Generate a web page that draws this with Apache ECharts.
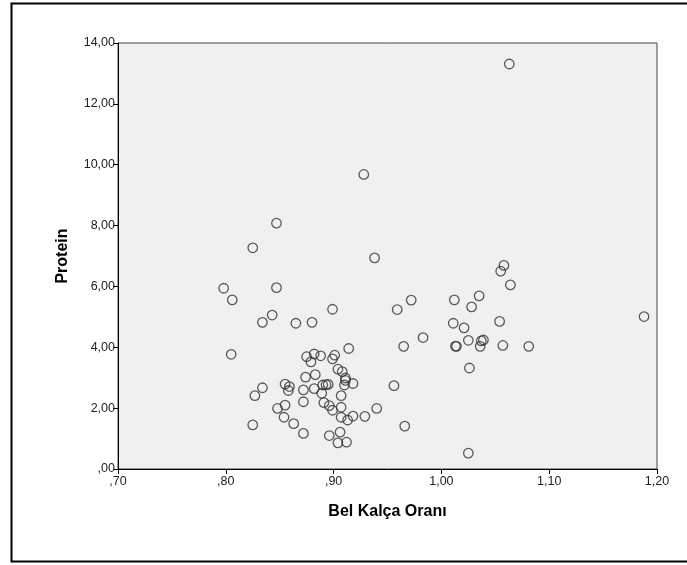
<!DOCTYPE html>
<html><head><meta charset="utf-8">
<script src="https://cdn.jsdelivr.net/npm/echarts@6/dist/echarts.min.js"></script>
<style>html,body{margin:0;padding:0;background:#fff}#c{width:687px;height:565px}</style>
</head><body><div id="c"></div>
<script>
const belKalca = [1.063,0.928,0.847,0.825,0.938,1.058,1.055,1.064,0.798,0.847,0.806,0.972,1.012,1.035,1.028,0.899,0.959,0.843,0.834,0.865,0.880,1.011,1.021,1.054,1.188,0.983,1.025,1.037,1.039,1.036,1.014,1.013,0.965,1.057,1.081,0.914,0.805,1.026,0.875,0.882,0.888,0.879,0.901,0.899,0.904,0.908,0.874,0.883,0.911,0.911,0.918,0.910,0.956,0.834,0.827,0.855,0.859,0.858,0.872,0.882,0.890,0.893,0.895,0.889,0.907,0.872,0.855,0.848,0.891,0.896,0.899,0.907,0.940,0.854,0.907,0.918,0.913,0.929,0.863,0.825,0.966,0.872,0.896,0.906,0.904,0.912,1.025];
const protein = [13.31,9.68,8.08,7.27,6.94,6.69,6.50,6.05,5.94,5.96,5.56,5.55,5.56,5.69,5.33,5.25,5.24,5.06,4.82,4.79,4.82,4.79,4.64,4.85,5.01,4.32,4.23,4.21,4.24,4.03,4.03,4.04,4.03,4.06,4.03,3.96,3.77,3.32,3.69,3.78,3.72,3.52,3.74,3.62,3.28,3.20,3.02,3.10,2.99,2.91,2.81,2.76,2.74,2.67,2.41,2.79,2.71,2.58,2.60,2.64,2.76,2.77,2.78,2.49,2.41,2.21,2.10,1.99,2.18,2.08,1.93,2.03,1.99,1.70,1.70,1.74,1.61,1.73,1.49,1.45,1.41,1.17,1.10,1.21,0.86,0.88,0.52];
const xTickLabels = {"0.7":",70","0.8":",80","0.9":",90","1":"1,00","1.1":"1,10","1.2":"1,20"};
const yTickLabels = {"0":",00","2":"2,00","4":"4,00","6":"6,00","8":"8,00","10":"10,00","12":"12,00","14":"14,00"};
const xTitle = "Bel Kalça Oranı";
const yTitle = "Protein";

const points = belKalca.map((x,i)=>[x,protein[i]]);
const chart = echarts.init(document.getElementById('c'), null, {renderer:'canvas'});
const fontFam = '"Liberation Sans", Arial, sans-serif';
chart.setOption({
  animation:false,
  backgroundColor:'#fff',
  graphic:[{type:'rect',shape:{x:11.5,y:3.5,width:700,height:558},style:{fill:'none',stroke:'#000',lineWidth:2},z:-1}],
  grid:{left:118,right:30,top:43,bottom:96,show:true,backgroundColor:'#f0f0f0',borderColor:'#444',borderWidth:1},
  xAxis:{type:'value',min:0.7,max:1.2,interval:0.1,
    name:xTitle,nameLocation:'middle',nameGap:35,
    nameTextStyle:{fontFamily:fontFam,fontSize:16,fontWeight:'bold',color:'#000'},
    axisLine:{show:true,lineStyle:{color:'#000',width:1}},
    axisTick:{show:true,length:5,lineStyle:{color:'#000'}},
    splitLine:{show:false},
    axisLabel:{fontFamily:fontFam,fontSize:12.5,color:'#222',margin:6,
      formatter:v=>xTickLabels[String(Math.round(v*10)/10)]||''}},
  yAxis:{type:'value',min:0,max:14,interval:2,
    name:yTitle,nameLocation:'middle',nameGap:47,nameRotate:90,
    nameTextStyle:{fontFamily:fontFam,fontSize:16,fontWeight:'bold',color:'#000'},
    axisLine:{show:true,lineStyle:{color:'#000',width:1}},
    axisTick:{show:true,length:5,lineStyle:{color:'#000'}},
    splitLine:{show:false},
    axisLabel:{fontFamily:fontFam,fontSize:12.5,color:'#222',margin:3,
      formatter:v=>yTickLabels[String(v)]||''}},
  series:[{type:'scatter',data:points,symbol:'circle',symbolSize:9.5,
    itemStyle:{color:'rgba(0,0,0,0)',borderColor:'#333',borderWidth:1.3}}]
});
</script></body></html>
